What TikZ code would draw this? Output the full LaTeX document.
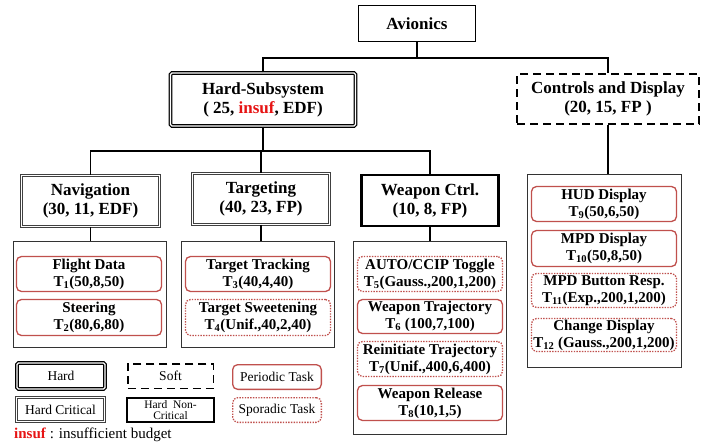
\documentclass[tikz,border=0pt]{standalone}
\usepackage{fontspec}
\setmainfont{Liberation Serif}
\definecolor{taskred}{RGB}{192,80,77}
\definecolor{insufred}{RGB}{230,20,20}
\begin{document}
\begin{tikzpicture}[x=1pt,y=-1pt,
  base/.style={inner sep=0pt, align=center, fill=white},
  sysfont/.style={font=\bfseries\fontsize{17}{19}\selectfont},
  taskfont/.style={font=\bfseries\fontsize{15}{17}\selectfont},
  legfont/.style={font=\fontsize{13.5}{14}\selectfont},
  plainbox/.style={base, draw=black, line width=1.2pt},
  hardbox/.style={base, draw=black, double=white, line width=1.3pt, double distance=1.2pt, rounded corners=1.5pt},
  hcritbox/.style={base, draw=black!75, double=white, line width=0.9pt, double distance=1.3pt},
  hncbox/.style={base, draw=black, line width=2.2pt},
  softbox/.style={base, draw=black, line width=1.5pt, dash pattern=on 8pt off 5pt},
  holder/.style={draw=black!80, line width=0.8pt, fill=white},
  pertask/.style={base, draw=taskred, line width=1.3pt, rounded corners=5pt},
  sportask/.style={base, draw=taskred, line width=1.3pt, rounded corners=5pt, dash pattern=on 1.4pt off 1.3pt},
  conn/.style={draw=black, line width=1.2pt}]
\useasboundingbox (0,0) rectangle (715,447);

% top levels
\node[plainbox, sysfont, minimum width=117, minimum height=36] (av) at (417,23.5) {Avionics};
\node[hardbox, sysfont, minimum width=185, minimum height=53] (hs) at (263,99.5) {Hard-Subsystem\\( 25, \textcolor{insufred}{insuf}, EDF)};
\node[softbox, sysfont, minimum width=182, minimum height=50] (cd) at (608,99) {Controls and Display\\(20, 15, FP )};

% subsystems
\node[hcritbox, sysfont, minimum width=138, minimum height=51] (nav) at (90.5,201) {Navigation\\(30, 11, EDF)};
\node[hcritbox, sysfont, minimum width=137, minimum height=51] (tg) at (261,199) {Targeting\\(40, 23, FP)};
\node[hncbox, sysfont, minimum width=137, minimum height=51] (wc) at (430,200.5) {Weapon Ctrl.\\(10, 8, FP)};

% containers
\node[holder, minimum width=153, minimum height=106] (navbox) at (89.5,294) {};
\node[holder, minimum width=153, minimum height=106] (tgbox) at (257.5,294) {};
\node[holder, minimum width=153, minimum height=193] (wcbox) at (429.5,337.5) {};
\node[holder, minimum width=154, minimum height=193] (cdbox) at (604,270.5) {};

% connectors
\coordinate (j1) at (417,58);
\coordinate (j2) at (263,151);
\draw[conn] (av.south) -- (j1);
\draw[conn] (hs.north) |- (j1) -| (cd.north);
\draw[conn] (hs.south) -- (j2);
\draw[conn] (nav.north) |- (j2) -| (wc.north);
\draw[conn] (tg.north) -- (tg.north |- j2);
\draw[conn] (nav.south) -- (nav.south |- navbox.north);
\draw[conn] (tg.south) -- (tg.south |- tgbox.north);
\draw[conn] (wc.south) -- (wc.south |- wcbox.north);
\draw[conn] (cd.south) -- (cd.south |- cdbox.north);

% tasks
\node[pertask, taskfont, minimum width=145, minimum height=35] (t1) at (89,274) {Flight Data\\T\textsubscript{1}(50,8,50)};
\node[pertask, taskfont, minimum width=145, minimum height=36] (t2) at (89,317.5) {Steering\\T\textsubscript{2}(80,6,80)};
\node[pertask, taskfont, minimum width=145, minimum height=35] (t3) at (258,274) {Target Tracking\\T\textsubscript{3}(40,4,40)};
\node[sportask, taskfont, minimum width=145, minimum height=36] (t4) at (258,317.5) {Target Sweetening\\T\textsubscript{4}(Unif.,40,2,40)};
\node[sportask, taskfont, minimum width=145, minimum height=35] (t5) at (430,274) {AUTO/CCIP Toggle\\T\textsubscript{5}(Gauss.,200,1,200)};
\node[pertask, taskfont, minimum width=145, minimum height=34] (t6) at (430,316.5) {Weapon Trajectory\\T\textsubscript{6} (100,7,100)};
\node[sportask, taskfont, minimum width=145, minimum height=35] (t7) at (430,359) {Reinitiate Trajectory\\T\textsubscript{7}(Unif.,400,6,400)};
\node[pertask, taskfont, minimum width=145, minimum height=35] (t8) at (430,403) {Weapon Release\\T\textsubscript{8}(10,1,5)};
\node[pertask, taskfont, minimum width=145, minimum height=35] (t9) at (604,204) {HUD Display\\T\textsubscript{9}(50,6,50)};
\node[pertask, taskfont, minimum width=145, minimum height=36] (t10) at (604,248.5) {MPD Display\\T\textsubscript{10}(50,8,50)};
\node[sportask, taskfont, minimum width=145, minimum height=34] (t11) at (604,290.5) {MPD Button Resp.\\T\textsubscript{11}(Exp.,200,1,200)};
\node[sportask, taskfont, minimum width=145, minimum height=33] (t12) at (604,335) {Change Display\\T\textsubscript{12} (Gauss.,200,1,200)};

% legend
\node[hardbox, legfont, minimum width=88, minimum height=26] (lhard) at (61,376) {Hard};
\node[softbox, legfont, minimum width=85.5, minimum height=24.5] (lsoft) at (170.5,376) {Soft};
\node[pertask, legfont, minimum width=88.7, minimum height=24.7] (lper) at (277,377) {Periodic Task};
\node[hcritbox, legfont, minimum width=88, minimum height=24] (lhc) at (60.5,409.5) {Hard Critical};
\node[hncbox, font=\fontsize{11.5}{10.5}\selectfont, minimum width=87, minimum height=24] (lhnc) at (170.5,410) {Hard\ \ Non-\\Critical};
\node[sportask, legfont, minimum width=88.7, minimum height=24.7] (lspo) at (277,410) {Sporadic Task};
\node[anchor=west, inner sep=0pt, font=\fontsize{15}{17}\selectfont] (insuf) at (14,435) {\textcolor{insufred}{\textbf{insuf}} : insufficient budget};
\end{tikzpicture}
\end{document}
